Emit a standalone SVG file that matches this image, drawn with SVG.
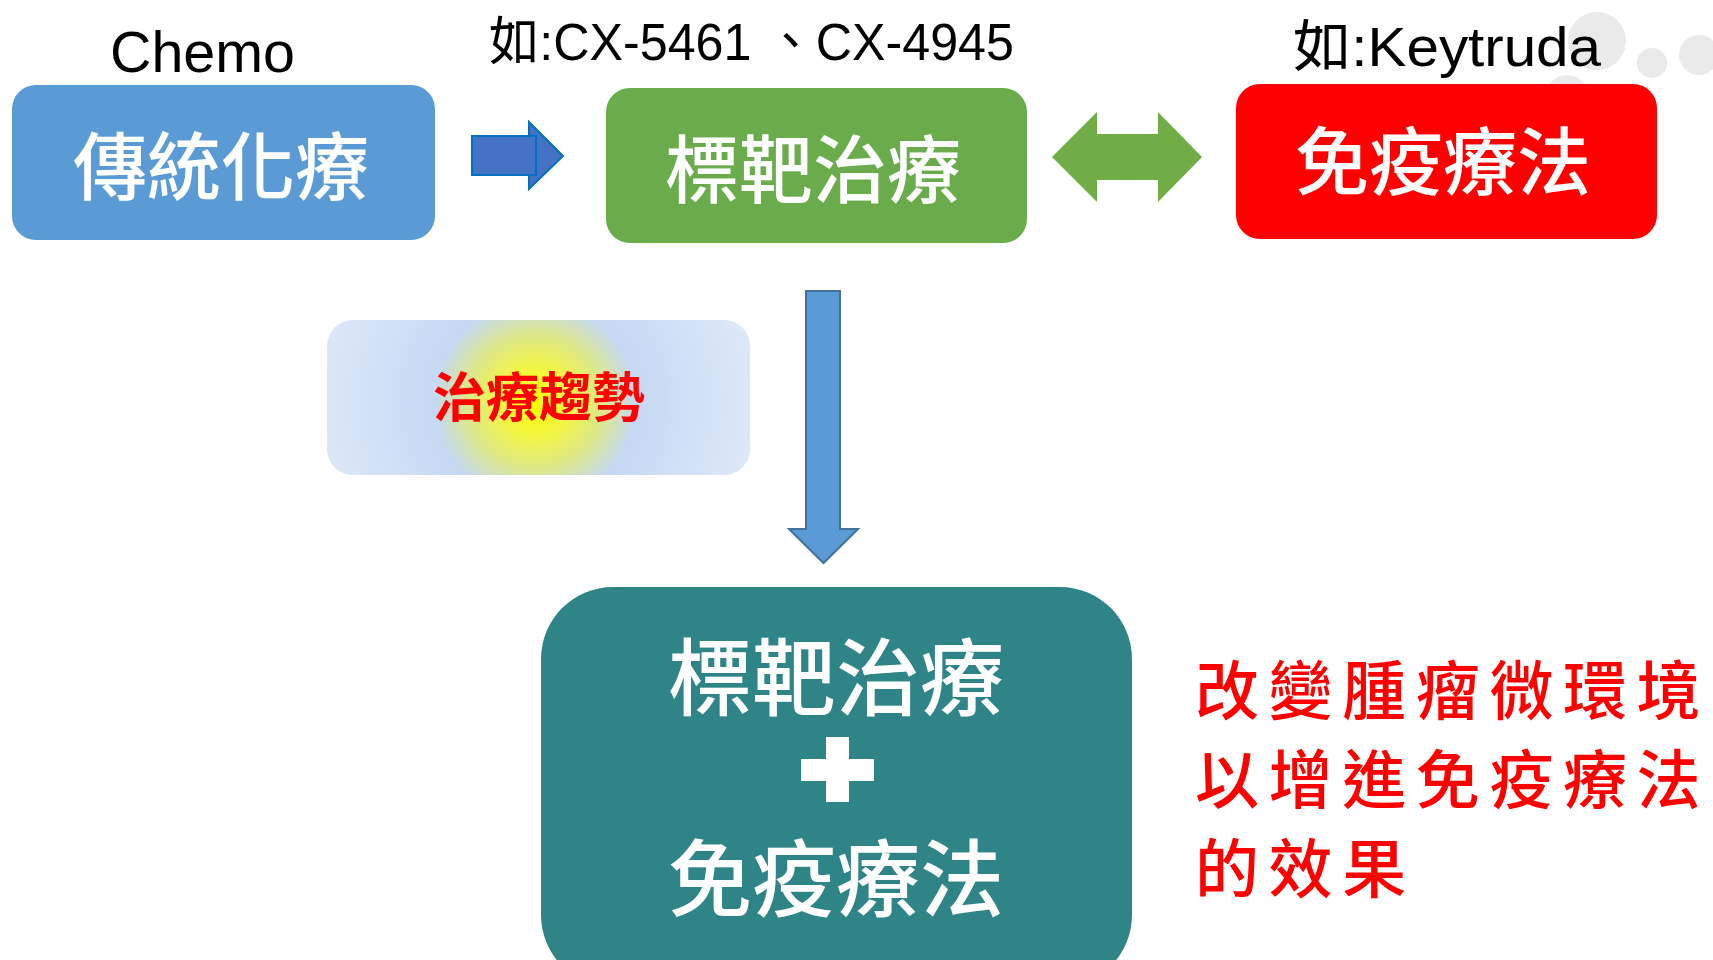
<svg xmlns="http://www.w3.org/2000/svg" width="1713" height="960" viewBox="0 0 1713 960">
  <style>
    .kai { font-family: "Noto Sans CJK TC", "Noto Sans CJK SC", sans-serif; font-weight: 500; }
    .wt { fill: #FFFFFF; text-anchor: middle; font-size: 74px; }
    .big { font-size: 84px; }
    .lbl { font-family: "Liberation Sans", "Noto Sans CJK TC", sans-serif; fill: #000000; }
    .note { fill: #FF0000; font-size: 64px; letter-spacing: 9.6px; }
    .deco { fill: #EAEAEA; }
  </style>
  <defs>
    <radialGradient id="glow" gradientUnits="userSpaceOnUse" cx="535" cy="402" r="225">
      <stop offset="0" stop-color="#FFFF00"/>
      <stop offset="0.14" stop-color="#F4F63C"/>
      <stop offset="0.3" stop-color="#DDE889"/>
      <stop offset="0.45" stop-color="#C5D9F4"/>
      <stop offset="1" stop-color="#DEE9F8"/>
    </radialGradient>
  </defs>
  <rect x="0" y="0" width="1713" height="960" fill="#FFFFFF"/>

  <g id="decoration">
    <circle class="deco" cx="1597" cy="41" r="29"/>
    <circle class="deco" cx="1652" cy="63" r="15"/>
    <circle class="deco" cx="1699" cy="55" r="20"/>
    <circle class="deco" cx="1567" cy="96" r="21"/>
  </g>

  <g id="node-chemo">
    <text class="lbl" x="110" y="72" font-size="57" textLength="185" lengthAdjust="spacingAndGlyphs">Chemo</text>
    <rect x="12" y="85" width="423" height="155" rx="24" fill="#5B9BD5"/>
    <text class="kai wt" x="221" y="194">傳統化療</text>
  </g>

  <g id="node-target">
    <text class="lbl" x="489" y="60" font-size="52" textLength="525" lengthAdjust="spacingAndGlyphs">如:CX-5461 、CX-4945</text>
    <rect x="606" y="88" width="421" height="155" rx="24" fill="#6AAB4B"/>
    <text class="kai wt" x="813" y="197">標靶治療</text>
  </g>

  <g id="node-immuno">
    <text class="lbl" x="1293" y="66" font-size="56" textLength="308" lengthAdjust="spacingAndGlyphs">如:Keytruda</text>
    <rect x="1236" y="84" width="421" height="155" rx="24" fill="#FF0000"/>
    <text class="kai wt" x="1443" y="189">免疫療法</text>
  </g>

  <g id="node-trend">
    <rect x="327" y="320" width="423" height="155" rx="26" fill="url(#glow)"/>
    <text x="539" y="417" font-family="Noto Sans CJK TC, sans-serif" font-weight="bold" font-size="53" fill="#FF0000" text-anchor="middle">治療趨勢</text>
  </g>

  <g id="node-combo">
    <rect x="541" y="587" width="591" height="400" rx="72" fill="#2E8486"/>
    <text class="kai wt big" x="836" y="709">標靶治療</text>
    <path d="M826 737 H849 V759 H874 V781 H849 V802 H826 V781 H801 V759 H826 Z" fill="#FFFFFF"/>
    <text class="kai wt big" x="836" y="910">免疫療法</text>
  </g>

  <g id="node-effect">
    <text class="kai note" x="1195" y="714">改變腫瘤微環境</text>
    <text class="kai note" x="1195" y="803">以增進免疫療法</text>
    <text class="kai note" x="1195" y="892">的效果</text>
  </g>

  <g id="connectors">
    <polygon points="529,122 563,156 529,189" fill="#4472C4" stroke="#0070C0" stroke-width="2"/>
    <rect x="472" y="136" width="64" height="39" fill="#4472C4" stroke="#0070C0" stroke-width="2"/>
    <polygon points="1052,157 1097,112 1097,134 1158,134 1158,112 1202,157 1158,202 1158,180 1097,180 1097,202" fill="#70AD47"/>
    <polygon points="806,291 840,291 840,529 858,529 823.5,563 789,529 806,529" fill="#5B9BD5" stroke="#41719C" stroke-width="2"/>
  </g>
</svg>
